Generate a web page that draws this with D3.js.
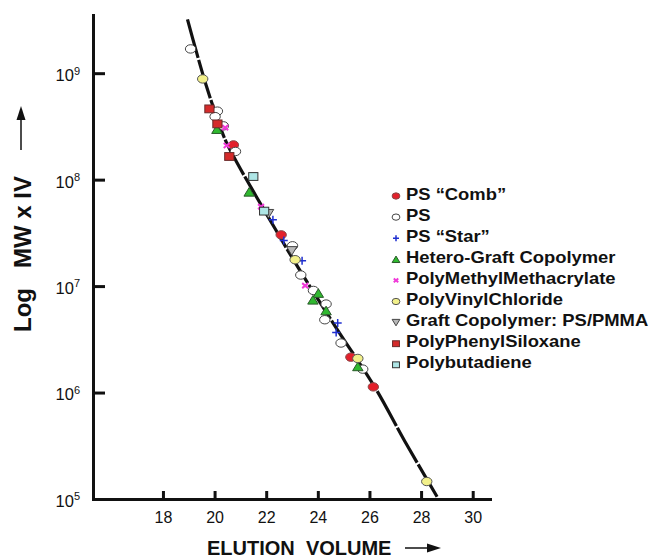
<!DOCTYPE html>
<meta charset="utf-8" />
<style>
  body { margin: 0; background: #fff; }
  text { font-family: "Liberation Sans", Arial, sans-serif; fill: #111; }
  .domain, .tick line { stroke: #111; stroke-width: 3; }
  .legend text { font-weight: bold; font-size: 16px; }
  .title { font-weight: bold; }
</style>
<svg width="652" height="559"></svg>
<script src="https://d3js.org/d3.v7.min.js"></script>
<script>
  // calibration curve (elution volume vs MW x IV)
  var curveVol = [18.95, 19.67, 20.41, 20.87, 22.03, 23.24, 24.71, 26.22, 27.38, 28.62];
  var curveMW = [3.2e9, 7.76e8, 2.37e8, 1.44e8, 4.67e7, 1.49e7, 4.06e6, 1.11e6, 3.45e5, 1.05e5];

  var xTicks = [18, 20, 22, 24, 26, 28, 30];
  var yTicks = [1e5, 1e6, 1e7, 1e8, 1e9];

  var seriesNames = [
    "PS \u201cComb\u201d",
    "PS",
    "PS \u201cStar\u201d",
    "Hetero-Graft Copolymer",
    "PolyMethylMethacrylate",
    "PolyVinylChloride",
    "Graft Copolymer: PS/PMMA",
    "PolyPhenylSiloxane",
    "Polybutadiene"
  ];

  var combVol = [20.73, 22.58, 25.28, 26.15];
  var combMW = [2.12e8, 3.03e7, 2.15e6, 1.13e6];
  var psVol = [19.07, 20.11, 20.02, 20.34, 20.81, 23.02, 23.34, 23.83, 24.32, 24.27, 24.90, 25.74];
  var psMW = [1.69e9, 4.4e8, 3.91e8, 3.2e8, 1.84e8, 2.39e7, 1.27e7, 9.1e6, 6.78e6, 4.83e6, 2.92e6, 1.66e6];
  var starVol = [22.26, 22.68, 23.39, 24.77, 24.71];
  var starMW = [4.2e7, 2.68e7, 1.73e7, 4.5e6, 3.67e6];
  var heteroVol = [20.09, 21.34, 24.02, 23.81, 24.32, 25.55];
  var heteroMW = [2.98e8, 7.68e7, 8.6e6, 7.43e6, 5.9e6, 1.76e6];
  var pmmaVol = [20.41, 20.47, 21.80, 23.51];
  var pmmaMW = [3.08e8, 2.09e8, 5.58e7, 1.01e7];
  var pvcVol = [19.54, 23.12, 25.55, 28.22];
  var pvcMW = [8.83e8, 1.77e7, 2.09e6, 1.46e5];
  var graftVol = [22.09, 22.99];
  var graftMW = [4.78e7, 2.14e7];
  var ppsVol = [19.80, 20.11, 20.57];
  var ppsMW = [4.62e8, 3.34e8, 1.65e8];
  var pbVol = [21.50, 21.92];
  var pbMW = [1.07e8, 5.06e7];

  var svg = d3.select("svg");

  var x = d3.scaleLinear().domain([15.29, 30.67]).range([93, 490]);
  var y = d3.scaleLog().domain([1e5, 3.52e9]).range([499, 15]);

  // axes
  svg.append("g")
    .attr("transform", "translate(0,499)")
    .call(d3.axisBottom(x).tickValues(xTicks).tickSizeInner(-8).tickSizeOuter(0).tickPadding(13))
    .call(g => g.selectAll(".tick text").style("font-size", "16px"));

  var yAxis = svg.append("g")
    .attr("transform", "translate(93,0)")
    .call(d3.axisLeft(y).tickValues(yTicks).tickSizeInner(-12).tickSizeOuter(0).tickPadding(13)
      .tickFormat(d => ""));
  yAxis.selectAll(".tick text").each(function(d) {
    var t = d3.select(this).attr("dy", "0.45em").style("font-size", "16.5px");
    t.append("tspan").text("10");
    t.append("tspan").attr("dy", "-0.6em").style("font-size", "11px").text(Math.round(Math.log10(d)));
  });
  yAxis.selectAll(".tick").filter(d => d === 1e5).select("line").remove();
  svg.selectAll(".domain").attr("stroke-linecap", "square");

  // calibration line
  var line = d3.line()
    .x(d => x(d[0]))
    .y(d => y(d[1]))
    .curve(d3.curveCatmullRom);
  svg.append("path")
    .datum(d3.zip(curveVol, curveMW))
    .attr("d", line)
    .attr("fill", "none")
    .attr("stroke", "#111")
    .attr("stroke-width", 3.2)
    .attr("stroke-dasharray", "40,2");

  // marker drawers
  function ell(fill, stroke) {
    return function(g, s) {
      g.append("ellipse").attr("rx", 5.2 * s).attr("ry", 4.2 * s)
        .attr("fill", fill).attr("stroke", stroke).attr("stroke-width", 1);
    };
  }
  function rect(fill, stroke) {
    return function(g, s) {
      g.append("rect").attr("x", -4.6 * s).attr("y", -3.9 * s)
        .attr("width", 9.2 * s).attr("height", 7.8 * s)
        .attr("fill", fill).attr("stroke", stroke).attr("stroke-width", 1);
    };
  }
  function tri(fill, stroke, down) {
    return function(g, s) {
      var h = 4.3 * s, w = 5.2 * s, k = down ? -1 : 1;
      g.append("path")
        .attr("d", "M0," + (-k * h) + "L" + w + "," + (k * h) + "L" + (-w) + "," + (k * h) + "Z")
        .attr("fill", fill).attr("stroke", stroke).attr("stroke-width", 1);
    };
  }
  function plus(color) {
    return function(g, s) {
      g.append("path").attr("d", "M" + (-4 * s) + ",0H" + (4 * s) + "M0," + (-4 * s) + "V" + (4 * s))
        .attr("stroke", color).attr("stroke-width", 1.5);
    };
  }
  function cross(color) {
    return function(g, s) {
      g.append("path").attr("d", "M" + (-3 * s) + "," + (-2.5 * s) + "L" + (3 * s) + "," + (2.5 * s) +
        "M" + (3 * s) + "," + (-2.5 * s) + "L" + (-3 * s) + "," + (2.5 * s))
        .attr("stroke", color).attr("stroke-width", 2);
    };
  }

  var series = [
    { name: seriesNames[0], vol: combVol, mw: combMW, draw: ell("#e3202b", "#8a4a4a") },
    { name: seriesNames[1], vol: psVol, mw: psMW, draw: ell("#ffffff", "#444") },
    { name: seriesNames[2], vol: starVol, mw: starMW, draw: plus("#1f2fd0") },
    { name: seriesNames[3], vol: heteroVol, mw: heteroMW, draw: tri("#2fb82f", "#2a5a2a") },
    { name: seriesNames[4], vol: pmmaVol, mw: pmmaMW, draw: cross("#f03ad8") },
    { name: seriesNames[5], vol: pvcVol, mw: pvcMW, draw: ell("#f2f08a", "#555") },
    { name: seriesNames[6], vol: graftVol, mw: graftMW, draw: tri("#b8b8b8", "#444", true) },
    { name: seriesNames[7], vol: ppsVol, mw: ppsMW, draw: rect("#d42a2a", "#6a2a2a") },
    { name: seriesNames[8], vol: pbVol, mw: pbMW, draw: rect("#aee6e6", "#333") }
  ];

  series.forEach(function(sr) {
    d3.zip(sr.vol, sr.mw).forEach(function(p) {
      var g = svg.append("g").attr("transform", "translate(" + x(p[0]) + "," + y(p[1]) + ")");
      sr.draw(g, 1);
    });
  });

  // legend
  var legend = svg.append("g").attr("class", "legend").attr("transform", "translate(396,194)");
  series.forEach(function(sr, i) {
    var row = legend.append("g").attr("transform", "translate(0," + i * 21.1 + ")");
    sr.draw(row.append("g").attr("transform", "translate(0,2)"), 0.75);
    row.append("text")
      .attr("transform", "translate(10,0) scale(1.15,1)")
      .attr("dy", "0.35em")
      .text(sr.name);
  });

  // axis titles
  var yt = svg.append("text")
    .attr("class", "title")
    .attr("transform", "translate(31,332) rotate(-90)")
    .style("font-size", "24px");
  yt.append("tspan").attr("x", 0).text("Log");
  yt.append("tspan").attr("x", 64).text("MW x IV");
  svg.append("path")
    .attr("d", "M21,150V118")
    .attr("stroke", "#111").attr("stroke-width", 1.5);
  svg.append("path")
    .attr("d", "M21,106L16.5,120L25.5,120Z")
    .attr("fill", "#111");

  svg.append("text")
    .attr("class", "title")
    .attr("x", 207).attr("y", 555)
    .style("font-size", "20px")
    .attr("xml:space", "preserve")
    .text("ELUTION  VOLUME");
  svg.append("path")
    .attr("d", "M405,548H428")
    .attr("stroke", "#111").attr("stroke-width", 1.5);
  svg.append("path")
    .attr("d", "M441,548L427,543.5L427,552.5Z")
    .attr("fill", "#111");
</script>
